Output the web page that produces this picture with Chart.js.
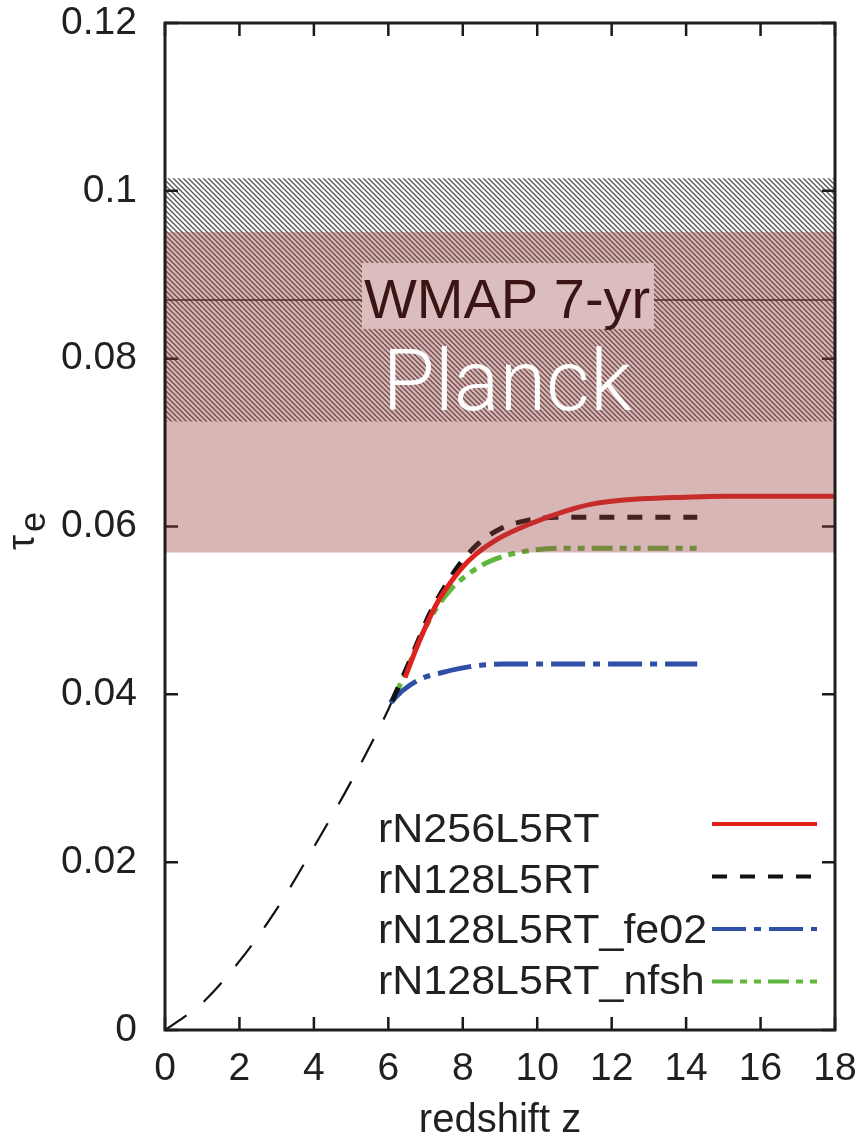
<!DOCTYPE html>
<html>
<head>
<meta charset="utf-8">
<script src="https://cdn.jsdelivr.net/npm/chart.js@4.4.1/dist/chart.umd.min.js"></script>
<style>
  html, body { margin: 0; padding: 0; background: #fff; }
</style>
</head>
<body>
<canvas id="tau" width="866" height="1141"></canvas>
<script>
// optical depth tau_e vs redshift

// thin dashed line, low-z part
const zBase = [0, 0.5, 1, 2, 3, 4, 5, 6, 6.1];
const tauBase = [0, 0.0015, 0.0032, 0.0082, 0.0144, 0.0218, 0.0296, 0.0382, 0.0392];

const zN256 = [6.45, 6.8, 7.3, 7.75, 8.2, 8.9, 9.8, 10.8, 11.5, 12.8, 14, 15, 16, 17, 18];
const tauN256 = [0.0420, 0.0460, 0.0508, 0.0538, 0.0561, 0.0584, 0.0603, 0.0619, 0.0627, 0.0633, 0.0635, 0.0636, 0.0636, 0.0636, 0.0636];

const zN128 = [6.1, 6.5, 6.85, 7.1, 7.5, 7.9, 8.4, 9.0, 9.7, 10.5, 11.5, 12.5, 13.5, 14.3];
const tauN128 = [0.0392, 0.0432, 0.0469, 0.0495, 0.0527, 0.0554, 0.0579, 0.0597, 0.0607, 0.0611, 0.0611, 0.0611, 0.0611, 0.0611];

const zFe02 = [6.05, 6.4, 6.85, 7.45, 8.2, 9.1, 10.5, 12, 13, 14.3];
const tauFe02 = [0.0390, 0.0405, 0.0418, 0.0426, 0.0433, 0.0436, 0.0436, 0.0436, 0.0436, 0.0436];

const zNfsh = [6.1, 6.5, 6.9, 7.3, 7.7, 8.2, 8.7, 9.5, 10.6, 11.5, 12.5, 13.5, 14.3];
const tauNfsh = [0.0390, 0.0430, 0.0471, 0.0503, 0.0526, 0.0545, 0.0558, 0.0569, 0.0574, 0.0574, 0.0574, 0.0574, 0.0574];

const seriesLabels = ["rN256L5RT", "rN128L5RT", "rN128L5RT_fe02", "rN128L5RT_nfsh"];

// observational constraints
const wmapRange = [0.0725, 0.1015];
const wmapMean = 0.087;
const planckRange = [0.0569, 0.0951];

const zMax = 18;
const tauMax = 0.12;

const FONT = "'Liberation Sans', Arial, Helvetica, sans-serif";
const INK = "#231f20";

const pts = (xs, ys) => xs.map((x, i) => ({ x, y: ys[i] }));

// diagonal hatch used for the WMAP band
const hatch = (() => {
  const c = document.createElement("canvas");
  c.width = c.height = 5;
  const g = c.getContext("2d");
  g.strokeStyle = "#555";
  g.lineWidth = 1.3;
  g.beginPath();
  g.moveTo(-1, -1); g.lineTo(6, 6);
  g.moveTo(-1, 4); g.lineTo(1, 6);
  g.moveTo(4, -1); g.lineTo(6, 1);
  g.stroke();
  return c;
})();

const bandsUnder = {
  id: "bandsUnder",
  beforeDatasetsDraw(chart) {
    const { ctx, chartArea: a, scales: { x, y } } = chart;
    ctx.save();
    // WMAP hatched band + mean
    const top = y.getPixelForValue(wmapRange[1]);
    const bot = y.getPixelForValue(wmapRange[0]);
    ctx.fillStyle = ctx.createPattern(hatch, "repeat");
    ctx.fillRect(a.left, top, a.right - a.left, bot - top);
    const ym = y.getPixelForValue(wmapMean);
    ctx.strokeStyle = "#222";
    ctx.lineWidth = 1.6;
    ctx.beginPath();
    ctx.moveTo(a.left, ym);
    ctx.lineTo(a.right, ym);
    ctx.stroke();

    // inward tick marks on all four sides
    const len = 13;
    ctx.strokeStyle = "#1a1a1a";
    ctx.lineWidth = 2.5;
    ctx.beginPath();
    x.ticks.forEach(t => {
      const px = x.getPixelForValue(t.value);
      ctx.moveTo(px, a.bottom); ctx.lineTo(px, a.bottom - len);
      ctx.moveTo(px, a.top); ctx.lineTo(px, a.top + len);
    });
    y.ticks.forEach(t => {
      const py = y.getPixelForValue(t.value);
      ctx.moveTo(a.left, py); ctx.lineTo(a.left + len, py);
      ctx.moveTo(a.right, py); ctx.lineTo(a.right - len, py);
    });
    ctx.stroke();
    ctx.restore();
  },
};

const bandsOver = {
  id: "bandsOver",
  afterDatasetsDraw(chart) {
    const { ctx, chartArea: a, scales: { x, y } } = chart;
    ctx.save();
    // Planck band, translucent over everything
    const top = y.getPixelForValue(planckRange[1]);
    const bot = y.getPixelForValue(planckRange[0]);
    ctx.fillStyle = "rgba(154, 62, 62, 0.375)";
    ctx.fillRect(a.left, top, a.right - a.left, bot - top);

    // WMAP label box
    const ym = y.getPixelForValue(wmapMean);
    ctx.fillStyle = "#dcbdbd";
    ctx.fillRect(362, ym - 37, 292, 66);
    ctx.fillStyle = "#3b1515";
    ctx.font = "56px " + FONT;
    ctx.textBaseline = "alphabetic";
    ctx.textAlign = "left";
    ctx.fillText("WMAP 7-yr", 364, ym + 18);

    // Planck label
    ctx.fillStyle = "#ffffff";
    ctx.font = "300 85px Roboto, " + FONT;
    ctx.textAlign = "center";
    ctx.fillText("Planck", 507, y.getPixelForValue(0.0739));

    // frame
    ctx.strokeStyle = "#1e1e1e";
    ctx.lineWidth = 3;
    ctx.strokeRect(a.left, a.top, a.right - a.left, a.bottom - a.top);
    ctx.restore();
  },
  afterDraw(chart) {
    const { ctx } = chart;
    ctx.save();
    // key, gnuplot style: text left, line sample right
    ctx.font = "40px " + FONT;
    ctx.fillStyle = INK;
    ctx.textAlign = "left";
    ctx.textBaseline = "alphabetic";
    seriesLabels.forEach((lab, i) => {
      const ds = chart.data.datasets[i];
      const base = 842 + 50.5 * i;
      ctx.save();
      ctx.translate(378, base);
      ctx.scale(1.075, 1);
      ctx.fillText(lab, 0, 0);
      ctx.restore();
      const ly = 824 + 52.5 * i;
      ctx.strokeStyle = ds.borderColor;
      ctx.lineWidth = 4;
      ctx.setLineDash(ds.borderDash || []);
      ctx.beginPath();
      ctx.moveTo(712, ly);
      ctx.lineTo(817, ly);
      ctx.stroke();
    });
    ctx.setLineDash([]);

    // y title: tau with subscript e
    ctx.translate(34, 534);
    ctx.rotate(-Math.PI / 2);
    ctx.font = "38px " + FONT;
    ctx.fillText("τ", -16, 0);
    ctx.font = "36px " + FONT;
    ctx.fillText("e", 2, 11);
    ctx.restore();
  },
};

// pin the plot area: no extra room for half tick labels
const fixAxis = (size, key) => scale => {
  scale[key] = size;
  scale.paddingTop = 0;
  scale.paddingBottom = 0;
  scale.paddingLeft = 0;
  scale.paddingRight = 0;
};

new Chart(document.getElementById("tau"), {
  type: "line",
  data: {
    datasets: [
      { label: seriesLabels[0], data: pts(zN256, tauN256), borderColor: "#e0221f", borderWidth: 5 },
      { label: seriesLabels[1], data: pts(zN128, tauN128), borderColor: "#111111", borderWidth: 5, borderDash: [15, 13] },
      { label: seriesLabels[2], data: pts(zFe02, tauFe02), borderColor: "#2f4fa6", borderWidth: 5, borderDash: [34, 8, 7, 8] },
      { label: seriesLabels[3], data: pts(zNfsh, tauNfsh), borderColor: "#5fb83c", borderWidth: 5, borderDash: [21, 7, 7, 7, 7, 7] },
      { label: "base", data: pts(zBase, tauBase), borderColor: "#111111", borderWidth: 2.2, borderDash: [26, 22] },
    ],
  },
  options: {
    responsive: false,
    devicePixelRatio: 1,
    animation: false,
    layout: { padding: { left: 0, top: 23, right: 31, bottom: 0 } },
    elements: {
      point: { radius: 0 },
      line: { cubicInterpolationMode: "monotone", borderCapStyle: "butt", fill: false },
    },
    plugins: {
      legend: { display: false },
      tooltip: { enabled: false },
    },
    scales: {
      x: {
        type: "linear",
        min: 0,
        max: zMax,
        afterFit: fixAxis(111, "height"),
        grid: { display: false },
        border: { display: false },
        ticks: { stepSize: 2, padding: 8, color: INK, font: { family: FONT, size: 39 } },
        title: {
          display: true,
          text: "redshift z",
          color: INK,
          font: { family: FONT, size: 40 },
          padding: { top: 0, bottom: -4 },
        },
      },
      y: {
        min: 0,
        max: tauMax,
        afterFit: fixAxis(165, "width"),
        grid: { display: false },
        border: { display: false },
        ticks: {
          stepSize: 0.02,
          padding: 20,
          color: INK,
          font: { family: FONT, size: 39 },
          callback: v => String(+v.toFixed(2)),
        },
      },
    },
  },
  plugins: [bandsUnder, bandsOver],
});
</script>
</body>
</html>
